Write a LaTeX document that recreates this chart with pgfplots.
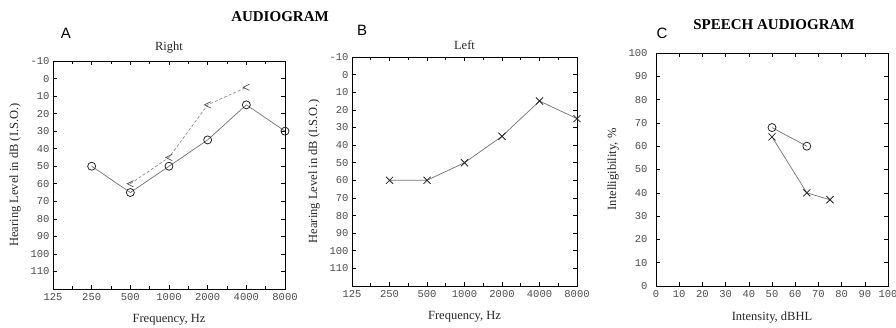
\documentclass[border=0pt]{standalone}
\usepackage{fontspec}
\setmainfont{Liberation Serif}
\newfontfamily\sansf{Liberation Sans}
\newfontfamily\monof{Liberation Mono}
\usepackage{pgfplots}
\pgfplotsset{compat=1.18}

\pgfdeclareplotmark{lt}{%
  \pgfpathmoveto{\pgfqpoint{0.7\pgfplotmarksize}{0.7\pgfplotmarksize}}%
  \pgfpathlineto{\pgfqpoint{-0.7\pgfplotmarksize}{0pt}}%
  \pgfpathlineto{\pgfqpoint{0.7\pgfplotmarksize}{-0.7\pgfplotmarksize}}%
  \pgfusepathqstroke}

\pgfplotsset{
  aud/.style={
    scale only axis, anchor=south west, clip=false,
    tick align=inside, major tick length=4pt, minor tick length=3pt,
    tick style={black, line width=0.6pt},
    axis line style={line width=0.9pt},
    ticklabel style={font=\monof\fontsize{10.5}{11}\selectfont, text=black!70},
    label style={font=\fontsize{12.5}{13}\selectfont, text=black!85},
    title style={font=\fontsize{12.5}{13}\selectfont, text=black!85, yshift=-2pt},
    xticklabel style={yshift=-1pt},
    xlabel style={yshift=-7pt},
    ylabel style={yshift=3pt},
    /pgf/number format/assume math mode=true,
  },
  freq/.style={
    xmin=125, xmax=8000,
    xtick={125,250,500,1000,2000,4000,8000},
    xticklabels={125,250,500,1000,2000,4000,8000},
    extra x ticks={176.8,353.6,707.1,1414,2828,5657},
    extra x tick labels={},
    extra x tick style={major tick length=3pt},
    y dir=reverse, ymin=-10, ymax=120,
    ytick={-10,0,10,20,30,40,50,60,70,80,90,100,110},
    xlabel={Frequency, Hz},
    ylabel={Hearing Level in dB (I.S.O.)},
  },
  ser/.style={black!55, line width=0.7pt, mark size=4pt, mark options={solid, black!85, line width=0.8pt}},
}

\begin{document}
\begin{tikzpicture}[x=1pt,y=1pt]
\path[use as bounding box] (0,0) rectangle (896,327);

% Panel A
\begin{axis}[xmode=log, log basis x=2, aud, freq, at={(53pt,38pt)}, width=232pt, height=228pt, title={Right}]
\addplot[ser, mark=o] coordinates {(250,50) (500,65) (1000,50) (2000,35) (4000,15) (8000,30)};
\addplot[black!45, densely dashed, line width=0.7pt, mark=lt, mark size=4.5pt, mark options={solid, black!70, line width=0.7pt}]
  coordinates {(500,60) (1000,45) (2000,15) (4000,5)};
\end{axis}

% Panel B
\begin{axis}[xmode=log, log basis x=2, aud, freq, at={(352pt,41pt)}, width=225pt, height=229pt, title={Left}]
\addplot[ser, mark=x, mark size=5pt] coordinates {(250,60) (500,60) (1000,50) (2000,35) (4000,15) (8000,25)};
\end{axis}

% Panel C
\begin{axis}[aud, at={(656pt,41pt)}, width=232pt, height=233pt,
  xmin=0, xmax=100, ymin=0, ymax=100,
  xtick={0,10,...,100}, ytick={0,10,...,100},
  yticklabel style={xshift=-5pt}, ylabel style={yshift=0pt},
  xlabel={Intensity, dBHL}, ylabel={Intelligibility, \%}]
\addplot[ser, mark=o] coordinates {(50,68) (65,60)};
\addplot[ser, mark=x, mark size=5pt] coordinates {(50,64) (65,40) (75,37)};
\end{axis}

\node[font=\bfseries\fontsize{15}{16}\selectfont] at (280,310) {AUDIOGRAM};
\node[font=\bfseries\fontsize{15}{16}\selectfont] at (774,302) {SPEECH AUDIOGRAM};
\node[font=\sansf\fontsize{15}{16}\selectfont] at (66,294) {A};
\node[font=\sansf\fontsize{15}{16}\selectfont] at (362,297) {B};
\node[font=\sansf\fontsize{15}{16}\selectfont] at (662,294) {C};
\end{tikzpicture}
\end{document}
